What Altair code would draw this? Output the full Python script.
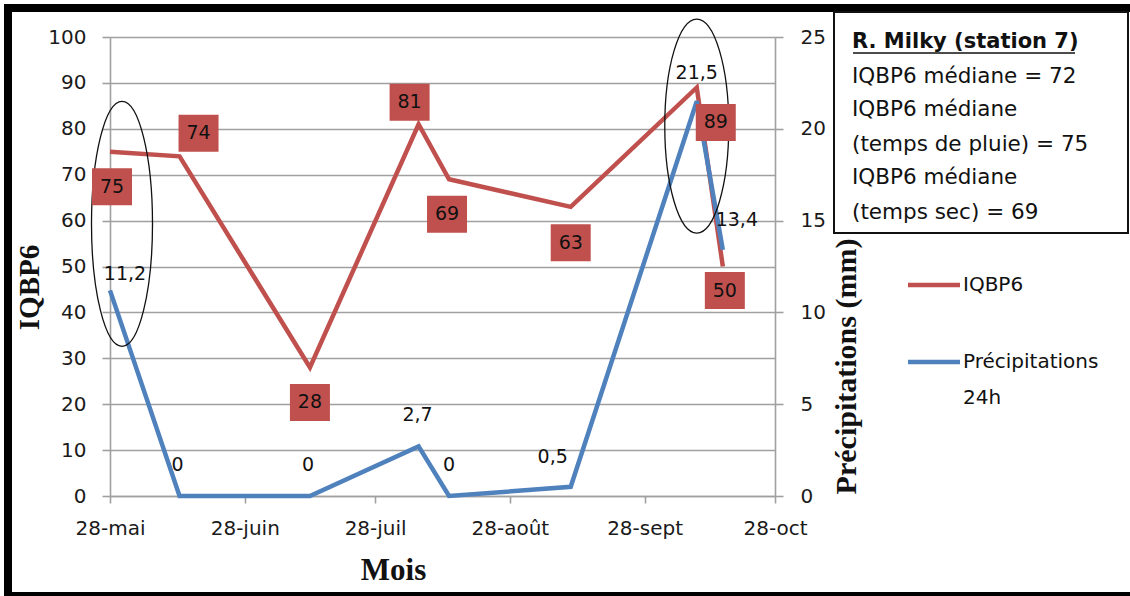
import altair as alt
import pandas as pd

RED = "#C0504D"
BLUE = "#4F81BD"
GRID = "#A0A0A0"
SANS = "DejaVu Sans"
SERIF = "Liberation Serif"

# ---- data ----
dates = ["2013/05/28", "2013/06/13", "2013/07/13", "2013/08/07",
         "2013/08/14", "2013/09/11", "2013/10/10", "2013/10/16"]
iqbp6 = [75, 74, 28, 81, 69, 63, 89, 50]
precip = [11.2, 0, 0, 2.7, 0, 0.5, 21.5, 13.4]
precip_text = ["11,2", "0", "0", "2,7", "0", "0,5", "21,5", "13,4"]
month_names = ["janv", "févr", "mars", "avr", "mai", "juin", "juil",
               "août", "sept", "oct", "nov", "déc"]
tick_months = [5, 6, 7, 8, 9, 10]
left_ticks = list(range(0, 101, 10))
right_ticks = list(range(0, 26, 5))
info_title = "R. Milky (station 7)"
info_lines = ["IQBP6 médiane = 72", "IQBP6 médiane", "(temps de pluie) = 75",
              "IQBP6 médiane", "(temps sec) = 69"]
series_names = ["IQBP6", "Précipitations", "24h"]

# label placement (pixel offsets, styling only)
box_dx = [2, 19, 0, -9, -2, 0, 19, 2]
box_dy = [35, -23, 35, -22, 35, 36, 35, 24]
p_dx = [15, -2, -2, -1, 0, -18, 0, 14]
p_dy = [-16, -31, -31, -31, -31, -30, -28, -30]

df = pd.DataFrame({
    "date": dates, "iqbp6": iqbp6, "precip": precip, "ptext": precip_text,
    "bdx": box_dx, "bdy": box_dy, "pdx": p_dx, "pdy": p_dy,
})
df["itext"] = df["iqbp6"].astype(str)

x_scale = alt.Scale(domain=[alt.DateTime(year=2013, month=5, date=28),
                            alt.DateTime(year=2013, month=10, date=28)])
month_arr = "[" + ",".join("'%s'" % m for m in month_names) + "]"
x_axis = alt.Axis(
    values=[alt.DateTime(year=2013, month=m, date=28) for m in tick_months],
    labelExpr="'28-' + " + month_arr + "[month(datum.value)]",
    grid=False, domainColor=GRID, domainWidth=1.6, tickColor=GRID, tickWidth=1.6,
    tickSize=7, labelFont=SANS, labelFontSize=20, labelColor="#1a1a1a",
    labelBaseline="middle", labelPadding=25, labelFlush=False,
    title="Mois", titleFont=SERIF, titleFontSize=31, titleFontWeight="bold",
    titleColor="#111", titleX=283, titleY=74, titleBaseline="middle",
    titleAlign="center",
)
x_enc = alt.X("date:T", scale=x_scale, axis=x_axis)

left_scale = alt.Scale(domain=[0, 100], nice=False, zero=True)
right_scale = alt.Scale(domain=[0, 25], nice=False, zero=True)

left_axis = alt.Axis(
    values=left_ticks, grid=True, gridColor=GRID, gridWidth=1.6,
    domainColor=GRID, domainWidth=1.6, tickColor=GRID, tickWidth=1.6, tickSize=8,
    labelFont=SANS, labelFontSize=20, labelColor="#1a1a1a", labelPadding=16,
    labelBaseline="middle",
    title="IQBP6", titleFont=SERIF, titleFontSize=29, titleFontWeight="bold",
    titleColor="#111", titleAngle=270, titleX=-81, titleY=250,
    titleBaseline="middle", titleAlign="center",
)
right_axis = alt.Axis(
    orient="right", values=right_ticks, grid=False,
    domainColor=GRID, domainWidth=1.6, tickColor=GRID, tickWidth=1.6, tickSize=8,
    labelFont=SANS, labelFontSize=20, labelColor="#1a1a1a", labelPadding=17,
    labelBaseline="middle",
    title="Précipitations (mm)", titleFont=SERIF, titleFontSize=30,
    titleFontWeight="bold", titleColor="#111", titleAngle=270, titleX=71,
    titleY=329, titleBaseline="middle", titleAlign="center",
)

base = alt.Chart(df)

red_line = base.mark_line(color=RED, strokeWidth=4.5).encode(
    x=x_enc, y=alt.Y("iqbp6:Q", scale=left_scale, axis=left_axis))
blue_line = base.mark_line(color=BLUE, strokeWidth=4.5).encode(
    x=x_enc, y=alt.Y("precip:Q", scale=right_scale, axis=right_axis))

box_shape = "M-1,-0.925H1V0.925H-1Z"
red_boxes = base.mark_point(shape=box_shape, size=1600, filled=True,
                            color=RED, opacity=1,
                            xOffset=alt.ExprRef(expr="datum.bdx"),
                            yOffset=alt.ExprRef(expr="datum.bdy")).encode(
    x=x_enc, y=alt.Y("iqbp6:Q", scale=left_scale, axis=None))
red_text = base.mark_text(font=SANS, fontSize=19, color="#111",
                          baseline="middle", align="center",
                          dx=alt.ExprRef(expr="datum.bdx"),
                          dy=alt.ExprRef(expr="datum.bdy")).encode(
    x=x_enc, y=alt.Y("iqbp6:Q", scale=left_scale, axis=None),
    text="itext:N")
blue_text = base.mark_text(font=SANS, fontSize=19, color="#111",
                           baseline="middle", align="center",
                           dx=alt.ExprRef(expr="datum.pdx"),
                           dy=alt.ExprRef(expr="datum.pdy")).encode(
    x=x_enc, y=alt.Y("precip:Q", scale=right_scale, axis=None),
    text="ptext:N")


def ellipse_path(rx):
    k = 0.5523
    return ("M0,-1C{a},-1 {r},-{k} {r},0C{r},{k} {a},1 0,1"
            "C-{a},1 -{r},{k} -{r},0C-{r},-{k} -{a},-1 0,-1Z").format(
        a=round(k * rx, 4), r=rx, k=k)


ell_df1 = pd.DataFrame({"date": [dates[0]], "v": [59.3]})
ell_df2 = pd.DataFrame({"date": [dates[6]], "v": [80.6]})
ellipse1 = alt.Chart(ell_df1).mark_point(
    shape=ellipse_path(0.249), size=245 ** 2, filled=False, color="#111",
    strokeWidth=1.3, opacity=1).encode(
    x=x_enc, y=alt.Y("v:Q", scale=left_scale, axis=None),
    xOffset=alt.value(12))
ellipse2 = alt.Chart(ell_df2).mark_point(
    shape=ellipse_path(0.299), size=214 ** 2, filled=False, color="#111",
    strokeWidth=1.3, opacity=1).encode(
    x=x_enc, y=alt.Y("v:Q", scale=left_scale, axis=None))

one = pd.DataFrame({"a": [0]})

frame = alt.Chart(one).mark_rect(fill=None, stroke="black", strokeWidth=8).encode(
    x=alt.value(-102), x2=alt.value(1040), y=alt.value(-29), y2=alt.value(559))

info_box = alt.Chart(one).mark_rect(fill="white", stroke="#111", strokeWidth=2).encode(
    x=alt.value(724), x2=alt.value(1018), y=alt.value(-25), y2=alt.value(196))

info_layers = [
    alt.Chart(one).mark_text(text=info_title, font=SANS, fontSize=21,
                             fontWeight="bold", color="#111", align="left",
                             baseline="middle").encode(
        x=alt.value(742), y=alt.value(5)),
    alt.Chart(one).mark_rule(color="#111", strokeWidth=1.6).encode(
        x=alt.value(743), x2=alt.value(965), y=alt.value(16)),
]
line_y = [40, 73, 108, 141, 176]
for txt, yy in zip(info_lines, line_y):
    info_layers.append(
        alt.Chart(one).mark_text(text=txt, font=SANS, fontSize=21.5,
                                 color="#111", align="left",
                                 baseline="middle").encode(
            x=alt.value(742), y=alt.value(yy)))

legend_layers = [
    alt.Chart(one).mark_rule(color=RED, strokeWidth=4.5).encode(
        x=alt.value(798), x2=alt.value(850), y=alt.value(248)),
    alt.Chart(one).mark_text(text=series_names[0], font=SANS, fontSize=20,
                             color="#111", align="left", baseline="middle").encode(
        x=alt.value(853), y=alt.value(248)),
    alt.Chart(one).mark_rule(color=BLUE, strokeWidth=4.5).encode(
        x=alt.value(798), x2=alt.value(850), y=alt.value(325)),
    alt.Chart(one).mark_text(text=series_names[1], font=SANS, fontSize=20,
                             color="#111", align="left", baseline="middle").encode(
        x=alt.value(853), y=alt.value(325)),
    alt.Chart(one).mark_text(text=series_names[2], font=SANS, fontSize=20,
                             color="#111", align="left", baseline="middle").encode(
        x=alt.value(853), y=alt.value(361)),
]

chart = alt.layer(
    frame, info_box, *info_layers, *legend_layers,
    red_line, blue_line, ellipse1, ellipse2, red_boxes, red_text, blue_text,
).resolve_scale(y="independent").properties(
    width=665, height=459,
    autosize=alt.AutoSizeParams(type="none"),
    padding={"left": 110, "top": 37, "right": 355, "bottom": 100},
    background="white",
).configure_view(stroke=None)

chart.save("out.html", embed_options={"renderer": "svg", "actions": False})
